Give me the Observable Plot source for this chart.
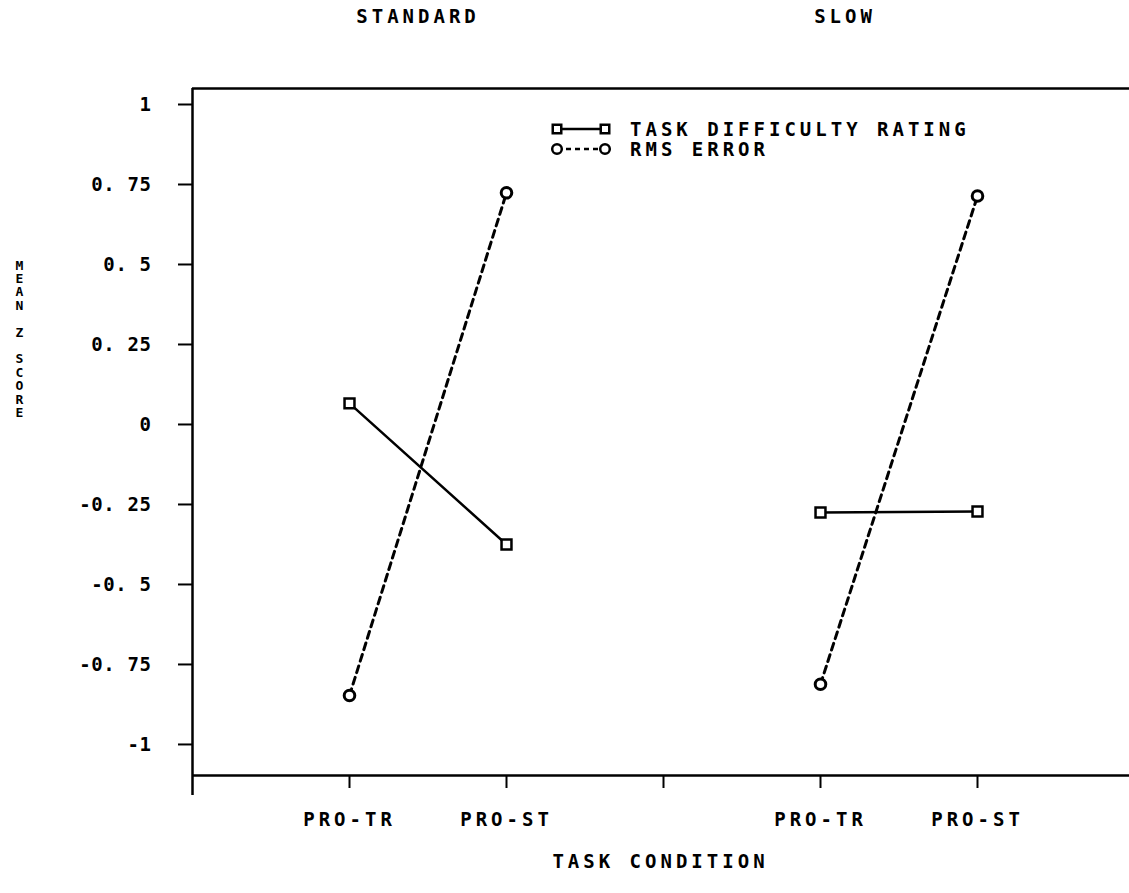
<!DOCTYPE html>
<html>
<head>
<meta charset="utf-8">
<script src="https://cdn.jsdelivr.net/npm/d3@7"></script>
<script src="https://cdn.jsdelivr.net/npm/@observablehq/plot@0.6"></script>
<style>
  body { margin: 0; background: white; }
  #wrap { position: relative; width: 1129px; height: 893px; background: white; }
  #legend { position: absolute; left: 0; top: 0; pointer-events: none; }
</style>
</head>
<body>
<div id="wrap"></div>
<script>
// ---- data ----
const groups = ["STANDARD", "SLOW"];
const conditions = ["PRO-TR", "PRO-ST"];
const seriesNames = ["TASK DIFFICULTY RATING", "RMS ERROR"];
// order: STANDARD PRO-TR, STANDARD PRO-ST, SLOW PRO-TR, SLOW PRO-ST
const taskDifficulty = [0.066, -0.375, -0.275, -0.272];
const rmsError = [-0.847, 0.724, -0.812, 0.714];
const xTickLabels = ["", "PRO-TR", "PRO-ST", "", "PRO-TR", "PRO-ST", ""];
const yTickValues = [-1, -0.75, -0.5, -0.25, 0, 0.25, 0.5, 0.75, 1];
const yTickLabels = ["-1", "-0. 75", "-0. 5", "-0. 25", "0", "0. 25", "0. 5", "0. 75", "1"];
const yAxisTitle = "MEAN Z SCORE";
const xAxisTitle = "TASK CONDITION";

// ---- build table ----
const rows = [];
groups.forEach((g, gi) => conditions.forEach((c, ci) => {
  const k = gi * 2 + ci;
  const slot = gi * 3 + ci + 1;
  rows.push({group: g, cond: c, slot, series: seriesNames[0], value: taskDifficulty[k]});
  rows.push({group: g, cond: c, slot, series: seriesNames[1], value: rmsError[k]});
}));
const td = rows.filter(d => d.series === seriesNames[0]);
const rms = rows.filter(d => d.series === seriesNames[1]);
const xSlots = xTickLabels.map((_, i) => i);

const FONT = "'DejaVu Sans Mono', monospace";
const Y_MIN = -1.097, Y_MAX = 1.05;

const chart = Plot.plot({
  width: 1129,
  height: 893,
  marginLeft: 192,
  marginTop: 88,
  marginBottom: 118,
  marginRight: 0,
  style: {fontFamily: FONT, fontWeight: "bold", background: "white", color: "black", letterSpacing: "4px"},
  x: {domain: [0, 6], range: [192, 1134]},
  y: {domain: [Y_MIN, Y_MAX]},
  marks: [
    Plot.ruleY([Y_MIN, Y_MAX], {stroke: "black", strokeWidth: 2.5}),
    Plot.ruleX([0], {stroke: "black", strokeWidth: 2.5, insetBottom: -20}),
    Plot.axisY({ticks: yTickValues, tickSize: 14, tickPadding: 27, tickFormat: v => yTickLabels[yTickValues.indexOf(v)], fontSize: 19, strokeWidth: 2, label: null}),
    Plot.axisX({ticks: xSlots.slice(1), tickSize: 13, tickPadding: 24, tickFormat: i => xTickLabels[i], fontSize: 19, strokeWidth: 2, label: null}),
    Plot.text([xAxisTitle], {x: 3, frameAnchor: "bottom", dy: 92, fontSize: 19, dx: -3}),
    Plot.text([groups[0]], {x: 1.5, frameAnchor: "top", dy: -79, fontSize: 19, dx: -10}),
    Plot.text([groups[1]], {x: 4.5, frameAnchor: "top", dy: -79, fontSize: 19, dx: -54}),
    Plot.text([yAxisTitle.split("").join("\n")], {frameAnchor: "left", dx: -177, dy: -93, fontSize: 13, lineHeight: 13.4 / 13}),
    Plot.line(td, {x: "slot", y: "value", z: "group", stroke: "black", strokeWidth: 2.5}),
    Plot.line(rms, {x: "slot", y: "value", z: "group", stroke: "black", strokeWidth: 3, strokeDasharray: "7,5"}),
    Plot.dot(td, {x: "slot", y: "value", symbol: "square", r: 5.6, stroke: "black", strokeWidth: 2.5, fill: "white"}),
    Plot.dot(rms, {x: "slot", y: "value", symbol: "circle", r: 5.3, stroke: "black", strokeWidth: 3, fill: "white"})
  ]
});

d3.select(chart).selectAll('g[aria-label="y-axis tick label"] text').style("letter-spacing", "0.6px");
d3.select(chart).selectAll('g[aria-label="text"] text').filter(function() { return this.textContent.startsWith("M"); }).style("letter-spacing", "0px");

const wrap = document.getElementById("wrap");
wrap.appendChild(chart);

// ---- legend overlay ----
const lg = d3.select(wrap).append("svg").attr("id", "legend").attr("width", 1129).attr("height", 893)
  .style("font-family", FONT).style("font-weight", "bold");
const legendItems = [
  {name: seriesNames[0], symbol: d3.symbolSquare, dash: null, sw: 2.5},
  {name: seriesNames[1], symbol: d3.symbolCircle, dash: "5,4", sw: 2.5}
];
legendItems.forEach((it, i) => {
  const y = 129 + i * 20;
  const g = lg.append("g");
  g.append("line").attr("x1", 557).attr("x2", 605).attr("y1", y).attr("y2", y)
    .attr("stroke", "black").attr("stroke-width", it.sw).attr("stroke-dasharray", it.dash);
  [557, 605].forEach(cx => {
    g.append("path").attr("d", d3.symbol(it.symbol, Math.PI * 4.8 * 4.8)())
      .attr("transform", `translate(${cx},${y})`)
      .attr("fill", "white").attr("stroke", "black").attr("stroke-width", 2.5);
  });
  g.append("text").attr("x", 630).attr("y", y + 7).attr("font-size", 19).style("letter-spacing", "4px").text(it.name);
});
</script>
</body>
</html>
